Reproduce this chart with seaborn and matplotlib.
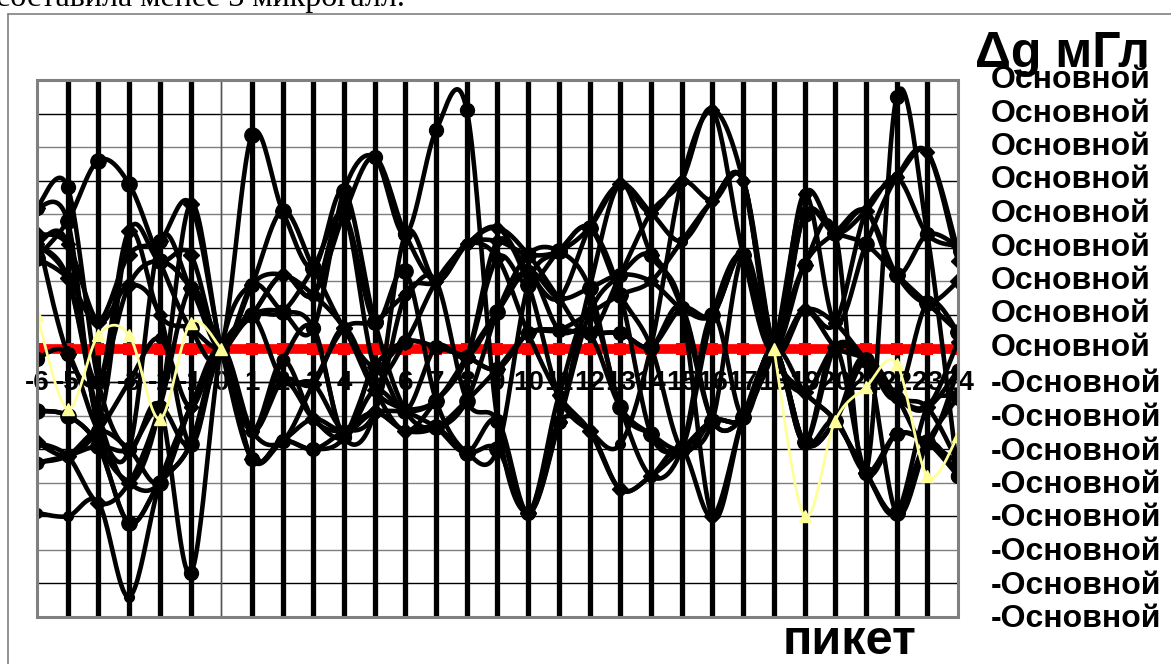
import numpy as np
import pandas as pd
import matplotlib
matplotlib.use("Agg")
import matplotlib.pyplot as plt
import seaborn as sns
from matplotlib.lines import Line2D
from matplotlib.patches import Rectangle

sns.set_theme(style="white")
plt.rcParams['font.family'] = ['Liberation Sans', 'DejaVu Sans']
plt.rcParams['text.color'] = 'black'
plt.rcParams['xtick.color'] = 'black'
plt.rcParams['ytick.color'] = 'black'

# ---------------- data ----------------
pikets = list(range(-6, 25))
tick_labels = [str(p) for p in pikets]

osn1 = [-0.3, -0.15, -2.45, -3.0, 3.2, 1.8, 0, -3.3, -2.75, -3.0, -2.65, -0.55, 0.2, 0.05, -0.25, -0.6, 0.45, 0.55, 0.45, 0.45, 0.05, 1.2, -2.15, -2.05, 0, -2.8, -2.15, -3.7, -2.55, -2.8, -3.8]
osn2 = [-4.9, -5.0, -4.6, -7.4, -4.0, -1.75, 0, 1.0, 2.2, 1.6, 4.0, 5.7, 3.4, 2.0, 3.1, 3.6, 2.3, 1.5, 3.6, 4.9, 4.05, 3.2, 4.4, 5.0, 0, 1.15, 0.75, 4.1, 5.1, 5.85, 2.9]
osn3 = [2.7, 3.8, 5.6, 4.9, 2.6, 0.6, 0, 6.35, 4.1, 2.4, 4.7, 0.8, -1.85, -2.35, -1.55, 1.1, 2.8, 2.9, 1.8, -1.75, -2.55, -3.0, 1.0, 2.8, 0, 4.0, 3.45, 3.1, 2.2, 1.35, 0.5]
osn4 = [3.4, 3.1, 0.8, 1.9, 1.0, -2.85, 0, -2.45, -0.95, -1.05, 0.6, -1.25, -2.45, -1.55, -0.25, 3.2, 1.9, -1.4, -2.45, -2.85, 0.05, 5.0, 7.1, 5.0, 0, -1.3, 0.05, -0.35, -1.45, -1.75, -3.4]
osn5 = [4.2, 4.8, -1.0, -3.0, -1.75, -6.7, 0, 1.9, 1.1, 0.6, 4.7, 5.7, 3.4, 6.5, 7.1, -2.15, -4.9, -2.2, 1.05, 2.2, 2.8, 1.2, -2.15, -2.05, 0, 2.5, 3.45, -3.7, 7.5, 3.4, -3.8]
osn6 = [3.1, 2.1, -2.0, -4.0, -1.75, 4.3, 0, -2.45, -0.35, -2.1, -2.45, -1.9, 1.6, 2.0, 3.1, 2.7, 0.45, -1.4, -2.45, -4.2, -3.8, -3.0, -5.0, -2.05, 0, 4.6, 3.45, 4.1, 5.1, 3.4, 3.05]
osn7 = [-1.85, -2.0, -2.9, -5.2, -4.0, -2.85, 0, 1.0, 1.1, 2.4, 4.0, 0.8, 2.3, -1.55, -3.1, -3.0, 1.9, 2.9, 3.6, 1.6, 0.05, -3.0, -2.15, -2.05, 0, -2.8, -2.15, -0.35, -4.9, -2.8, -1.45]
osn8 = [-2.8, -3.2, -2.45, -1.0, 0.3, -1.75, 0, -3.3, -2.75, -3.0, -2.45, -1.9, -2.45, -2.35, -1.55, -0.6, 0.45, 0.55, 1.05, 1.6, 2.0, 3.2, 4.4, 5.0, 0, -1.3, -2.15, -3.7, -4.9, -2.8, -3.8]
osn9 = [-3.4, -3.2, -2.9, -3.0, -1.75, -2.85, 0, -2.45, -0.35, 0.6, -2.65, -0.55, -1.85, 0.05, -0.25, 1.1, 2.3, 0.55, 0.45, -1.75, -2.55, -3.0, -2.15, -2.05, 0, -2.8, 0.05, -0.35, -1.45, -1.75, -0.65]
neg1 = [4.2, 3.8, -2.0, 3.5, 2.6, 2.8, 0, 1.9, 2.2, 1.6, 0.6, -1.25, -1.85, -2.35, -3.1, -2.15, -4.9, -2.2, 1.8, 4.9, 2.8, 1.2, -5.0, -2.05, 0, -1.3, -2.15, -3.7, -4.9, -1.75, -1.45]
neg2 = [3.1, 3.1, -2.45, -4.0, -4.0, -1.75, 0, 1.0, 2.2, 1.6, 4.0, -0.55, 0.2, 2.0, 3.1, 3.6, 2.8, 1.5, 0.45, 2.2, 4.05, 5.0, 7.1, 2.8, 0, 4.6, 0.75, 3.1, 5.1, 5.85, 2.6]
neg3 = [2.7, 2.1, 0.8, 2.8, 3.2, 4.3, 0, -3.3, -2.75, -2.1, -2.45, -1.9, -1.85, -1.55, -0.25, 2.7, 1.9, 2.9, 3.6, 1.6, -2.55, -3.0, -2.15, 2.8, 0, 2.5, 3.45, 4.1, 2.2, 1.35, 2.0]
neg4 = [-1.85, -2.0, -2.9, -5.2, -4.0, -2.85, 0, -2.45, -2.75, -1.05, 0.6, 0.8, 1.6, 2.0, -1.55, -2.15, -4.9, -1.4, 1.05, -1.75, -3.8, -3.0, 1.0, -2.05, 0, -2.8, -2.15, -0.35, -1.45, -2.8, -0.65]
neg5 = [-2.8, -3.2, -4.6, -4.0, -1.75, 1.8, 0, 1.0, -0.95, -1.05, -2.45, -1.9, -2.45, -2.35, -3.1, -3.0, -4.9, -2.2, -2.45, -4.2, -3.8, -3.0, -2.15, -2.05, 0, -2.8, 0.05, -3.7, -2.55, -2.8, -3.4]
neg6 = [-3.4, -3.2, -2.45, -3.0, -4.0, -1.75, 0, -2.45, -0.95, -2.1, -2.65, -1.25, -1.85, -1.55, -0.25, 1.1, 2.3, 1.5, 1.8, 2.2, 2.0, 1.2, 1.0, 2.8, 0, 1.15, 0.75, -0.35, -1.45, -1.75, 0.2]
neg7 = [3.4, -0.15, -1.0, 1.9, 2.6, 1.8, 0, 1.9, 4.1, 2.4, 0.6, -0.55, 0.2, 0.05, -0.25, -0.6, 0.45, 0.55, 0.45, 0.45, 0.05, 1.2, 1.0, 2.8, 0, 1.15, 0.05, -0.35, -1.45, 1.35, 0.5]
neg8 = [3.1, 2.1, -1.0, 3.5, 1.0, 0.6, 0, 1.0, 1.1, 0.6, -2.65, -1.9, 3.4, 2.0, 3.1, 3.2, 2.8, 2.9, 3.6, 4.9, 4.05, 5.0, 4.4, 5.0, 0, 4.0, 3.45, 4.1, 2.2, 3.4, 3.05]

base_line = [0] * 31
yellow = [1.0, -1.8, 0.4, 0.4, -2.1, 0.75, 0] + [None] * 17 + [0, -5.0, -2.15, -1.15, -0.45, -3.8, -2.6]

osn_series = [osn1, osn2, osn3, osn4, osn5, osn6, osn7, osn8, osn9]
neg_series = [neg1, neg2, neg3, neg4, neg5, neg6, neg7, neg8]
legend_labels = ["Основной"] * 9 + ["-Основной"] * 8


# ---------------- helpers ----------------
def smooth(xs, ys, n=24):
    """Excel-like smoothed line (Bezier through points, Catmull-Rom controls)."""
    xs = np.asarray(xs, float)
    ys = np.asarray(ys, float)
    P = np.column_stack([xs, ys])
    out = []
    m = len(P)
    for i in range(m - 1):
        p0 = P[i - 1] if i > 0 else P[i]
        p1 = P[i]
        p2 = P[i + 1]
        p3 = P[i + 2] if i + 2 < m else P[i + 1]
        b1 = p1 + (p2 - p0) / 6.0
        b2 = p2 - (p3 - p1) / 6.0
        t = np.linspace(0, 1, n, endpoint=(i == m - 2))[:, None]
        seg = ((1 - t) ** 3) * p1 + 3 * ((1 - t) ** 2) * t * b1 + 3 * (1 - t) * t ** 2 * b2 + t ** 3 * p2
        out.append(seg)
    out = np.vstack(out)
    return out[:, 0], out[:, 1]


W, H = 1171, 664
fig = plt.figure(figsize=(W / 100, H / 100), dpi=100)
L, R, T, B = 37, 958, 80, 617
ax = fig.add_axes([L / W, 1 - B / H, (R - L) / W, (B - T) / H])
ax.set_xlim(-6, 24)
ax.set_ylim(-8, 8)

# horizontal gridlines
for k, yv in enumerate(range(-8, 9)):
    ax.axhline(yv, color="#000000" if k % 2 else "#7f7f7f", lw=1.0, zorder=1)
# thick vertical gridlines
for xv in pikets:
    if xv in (-6, 0, 24):
        continue
    ax.axvline(xv, color="black", lw=3.8, zorder=1.2)
ax.axvline(0, color="#555555", lw=1.0, zorder=1.2)

# red baseline series
sns.lineplot(x=pikets, y=base_line, ax=ax, color="red", lw=7, marker="s",
             markersize=9, markeredgewidth=0, zorder=2, legend=False)

# black series
rng_sizes = [10, 7, 11, 7, 10, 8, 11, 7, 9]
for i, s in enumerate(osn_series):
    xs, ys = smooth(pikets, s)
    sns.lineplot(x=xs, y=ys, ax=ax, color="black", lw=3.3, sort=False,
                 estimator=None, zorder=3, legend=False)
    ax.plot(pikets, s, ls="none", marker="o", ms=rng_sizes[i], color="black", zorder=3.5)
for i, s in enumerate(neg_series):
    xs, ys = smooth(pikets, s)
    sns.lineplot(x=xs, y=ys, ax=ax, color="black", lw=3.3, sort=False,
                 estimator=None, zorder=3, legend=False)
    ax.plot(pikets, s, ls="none", marker="D", ms=7 if i % 2 else 8, color="black", zorder=3.5)

# yellow series (two parts)
yv = np.array([np.nan if v is None else v for v in yellow], float)
px = np.array(pikets, float)
for lo, hi in ((0, 7), (24, 31)):
    xs, ys = smooth(px[lo:hi], yv[lo:hi])
    sns.lineplot(x=xs, y=ys, ax=ax, color="#ffff99", lw=2.0, sort=False,
                 estimator=None, zorder=4, legend=False)
    ax.plot(px[lo:hi], yv[lo:hi], ls="none", marker="^", ms=8, color="#ffff99", zorder=4)

# axes styling
for sp in ax.spines.values():
    sp.set_visible(False)
ax.spines['bottom'].set_visible(True)
ax.spines['bottom'].set_position(('data', -1))
ax.spines['bottom'].set_color('black')
ax.spines['bottom'].set_linewidth(1.0)
ax.spines['left'].set_visible(True)
ax.spines['left'].set_position(('data', 0))
ax.spines['left'].set_color('#555555')
ax.spines['left'].set_linewidth(1.0)
ax.set_xticks(pikets)
ax.set_xticklabels(tick_labels, fontsize=20, fontweight="bold", color="black")
ax.tick_params(axis='x', length=0, pad=-9)
ax.set_yticks(range(-8, 9))
ax.set_yticklabels([])
ax.tick_params(axis='y', length=5, width=1, color='#555555', direction='out')
for lab in ax.get_xticklabels():
    lab.set_zorder(5)
ax.set_xlabel("")
ax.set_ylabel("")

# plot-area border
ax.add_patch(Rectangle((0, 0), 1, 1, transform=ax.transAxes, fill=False,
                       edgecolor="#808080", lw=2.2, zorder=6, clip_on=False))

# outer frame
fig.add_artist(Line2D([8 / W, 8 / W], [0, 1 - 14 / H], transform=fig.transFigure,
                      color="#808080", lw=1.2))
fig.add_artist(Line2D([8 / W, 1], [1 - 14 / H, 1 - 14 / H], transform=fig.transFigure,
                      color="#808080", lw=1.2))

# clipped caption text at top
fig.text(-4 / W, 1 - 6 / H, "составила менее 3 микрогалл.", fontsize=23,
         family=["Liberation Serif", "DejaVu Serif"], va="baseline", ha="left", color="black")

# title and legend-like labels
fig.text(975 / W, 1 - 67 / H, "Δg мГл", fontsize=36, fontweight="bold",
         va="baseline", ha="left", color="black")
for k, lab in enumerate(legend_labels):
    yc = 80 + k * 33.5 + (3 if k >= 9 else 0)
    fig.text(991 / W, 1 - yc / H, lab, fontsize=23, fontweight="bold",
             va="center", ha="left", color="black")

fig.text(850 / W, 1 - 642 / H, "пикет", fontsize=35, fontweight="bold",
         va="center", ha="center", color="black")

fig.savefig("out.png", dpi=100)
